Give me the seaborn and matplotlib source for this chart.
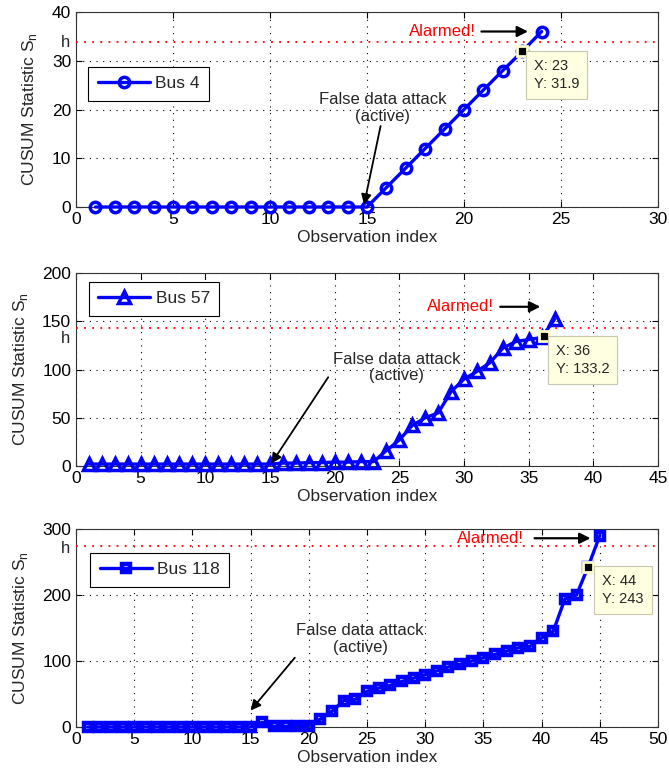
import matplotlib
matplotlib.use("Agg")
import matplotlib.pyplot as plt
import seaborn as sns
import numpy as np

# ---- data ----
bus4_x = list(range(1, 25))
bus4_y = [0] * 15 + [4, 8, 12, 16, 20, 24, 28, 31.9, 36]
bus4_h = 33.8

bus57_x = list(range(1, 38))
bus57_y = [2] * 15 + [3, 3, 3.5, 3.5, 4, 4, 4.5, 4.5,
                      16, 27, 42, 50, 55, 77, 90, 98, 107, 122, 129, 131, 133.2, 152]
bus57_h = 142.5

bus118_x = list(range(1, 46))
bus118_y = [0] * 15 + [7, 1, 1, 2, 2, 12, 24, 40, 42, 54, 59, 63, 69, 74, 79,
                       85, 91, 95, 100, 105, 110, 115, 120, 122, 135, 145, 194, 200, 243, 290]
bus118_h = 274

BLUE = (0, 0, 1)

sns.set_style("ticks")
plt.rcParams['font.family'] = ['Liberation Sans', 'DejaVu Sans']
plt.rcParams['font.size'] = 12

fig = plt.figure(figsize=(6.69, 7.8), dpi=100)
W, H = 669.0, 780.0


def make_axes(top, bottom):
    return fig.add_axes([76 / W, 1 - bottom / H, 582 / W, (bottom - top) / H])


panels = [
    dict(ax=make_axes(12, 207), x=bus4_x, y=bus4_y, h=bus4_h, label='Bus 4',
         marker='o', ms=7.5, mew=2.5, xlim=(0, 30), xstep=5, ylim=(0, 40), ystep=10,
         leg=(0.021, 0.72), hoff=0, hva='center',
         alarm_txt=(20.6, 36), alarm_arrow=((20.9, 36), (23.3, 36)),
         tip_pt=(23, 31.9), tip_txt=(23.6, 30.4), tip='X: 23\nY: 31.9',
         false_txt=(15.8, 20.3), false_arrow=((15.7, 16.6), (14.85, 0.5))),
    dict(ax=make_axes(273, 466), x=bus57_x, y=bus57_y, h=bus57_h, label='Bus 57',
         marker='^', ms=9, mew=2.5, xlim=(0, 45), xstep=5, ylim=(0, 200), ystep=50,
         leg=(0.022, 0.955), hoff=-1.5, hva='top',
         alarm_txt=(32.3, 165), alarm_arrow=((32.8, 165), (35.9, 165)),
         tip_pt=(36.2, 134.5), tip_txt=(37.1, 126.5), tip='X: 36\nY: 133.2',
         false_txt=(24.8, 102), false_arrow=((19.5, 92), (15.1, 2.5))),
    dict(ax=make_axes(529, 727), x=bus118_x, y=bus118_y, h=bus118_h, label='Bus 118',
         marker='s', ms=6, mew=3.2, xlim=(0, 50), xstep=5, ylim=(0, 300), ystep=100,
         leg=(0.024, 0.88), hoff=-1.5, hva='center',
         alarm_txt=(38.5, 286), alarm_arrow=((39.4, 286), (44.2, 286)),
         tip_pt=(44, 243), tip_txt=(45.2, 232), tip='X: 44\nY: 243',
         false_txt=(24.4, 133), false_arrow=((18.8, 105), (15.0, 25))),
]

for p in panels:
    ax = p['ax']
    sns.lineplot(x=p['x'], y=p['y'], ax=ax, color=BLUE, linewidth=2.4,
                 marker=p['marker'], markersize=p['ms'], markeredgewidth=p['mew'],
                 markerfacecolor='none', markeredgecolor=BLUE,
                 label=p['label'], clip_on=False, zorder=5)

    ax.set_xlim(*p['xlim'])
    ax.set_ylim(*p['ylim'])
    ax.set_xticks(np.arange(p['xlim'][0], p['xlim'][1] + 0.1, p['xstep']))
    ax.set_yticks(np.arange(p['ylim'][0], p['ylim'][1] + 0.1, p['ystep']))
    ax.grid(True, color='black', linestyle=(0, (1, 5)), linewidth=0.8)
    ax.tick_params(direction='in', top=True, right=True, length=4, width=0.8,
                   labelsize=12.5, colors='black')
    for s in ax.spines.values():
        s.set_visible(True)
        s.set_color('#333333')
        s.set_linewidth(0.8)

    ax.set_xlabel('Observation index', fontsize=12.5, labelpad=2)
    ax.set_ylabel('CUSUM Statistic S$_\\mathregular{n}$', fontsize=12.5, labelpad=9)

    # threshold h
    ax.axhline(p['h'], color='red', linestyle=(0, (1, 3.5)), linewidth=1.3, zorder=3)
    ax.annotate('h', xy=(0, p['h']), xycoords=('axes fraction', 'data'),
                xytext=(-4, p['hoff']), textcoords='offset points',
                ha='right', va=p['hva'], fontsize=12)

    # alarm annotation
    ax.text(*p['alarm_txt'], 'Alarmed!', color='red', ha='right', va='center', fontsize=12)
    ax.annotate('', xy=p['alarm_arrow'][1], xytext=p['alarm_arrow'][0],
                arrowprops=dict(arrowstyle='-|>', color='black', lw=1.6,
                                mutation_scale=16, shrinkA=0, shrinkB=0))

    # attack annotation
    ax.text(*p['false_txt'], 'False data attack\n(active)', ha='center', va='center',
            fontsize=12, linespacing=1.15, zorder=6)
    ax.annotate('', xy=p['false_arrow'][1], xytext=p['false_arrow'][0],
                arrowprops=dict(arrowstyle='-|>', color='black', lw=1.3,
                                mutation_scale=15, shrinkA=0, shrinkB=0), zorder=7)

    # datatip
    ax.plot(*p['tip_pt'], marker='s', markersize=7.5, markerfacecolor='black',
            markeredgecolor='#FFFFC8', markeredgewidth=2, zorder=8, clip_on=False)
    ax.text(*p['tip_txt'], p['tip'], ha='left', va='top', fontsize=10.5, zorder=8,
            linespacing=1.4,
            bbox=dict(boxstyle='square,pad=0.55', facecolor='#FFFFE1',
                      edgecolor='#C8C8B0', linewidth=0.8))

    ax.legend(loc='upper left', bbox_to_anchor=p['leg'], borderaxespad=0,
              fancybox=False, framealpha=1, edgecolor='black', fontsize=12.5,
              handlelength=3.0, borderpad=0.55, handletextpad=0.3).get_frame().set_linewidth(0.8)

fig.savefig('out.png', dpi=100)
